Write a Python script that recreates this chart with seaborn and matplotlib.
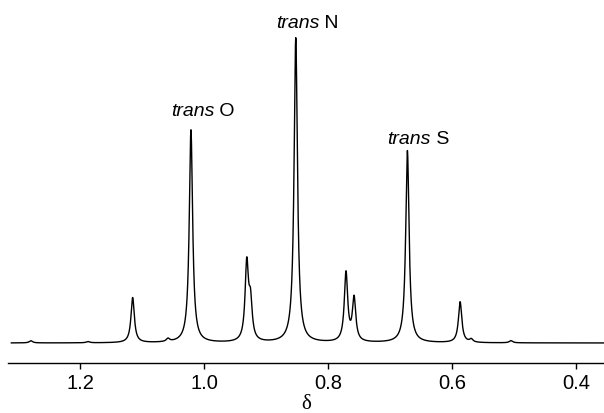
import numpy as np
import pandas as pd
import matplotlib.pyplot as plt
import seaborn as sns

# Peak table (chemical shift in ppm, relative height, trans N = 100)
peak_shift = [1.279, 1.187, 1.115, 1.058, 1.021, 0.931, 0.925, 0.852,
              0.771, 0.758, 0.672, 0.587, 0.569, 0.505]
peak_height = [0.7, 0.4, 14.8, 1.0, 69.8, 25.2, 12.0, 100.0,
               22.6, 14.1, 63.0, 13.4, 1.0, 0.7]
peak_width = 0.0065  # FWHM in ppm

# Labelled peaks
label_text = ['O', 'N', 'S']
label_shift = [1.021, 0.852, 0.672]
label_level = [76.1, 105.2, 66.9]

tick_values = [1.2, 1.0, 0.8, 0.6, 0.4]

# Build the spectrum as a sum of Lorentzian lines
delta = np.linspace(1.311, 0.35, 8000)
half = peak_width / 2
intensity = np.zeros_like(delta)
for pos, h in zip(peak_shift, peak_height):
    intensity += h * half**2 / ((delta - pos)**2 + half**2)
spectrum = pd.DataFrame({'delta': delta, 'intensity': intensity})

sns.set_theme(style='white')
plt.rcParams['font.family'] = ['Liberation Sans', 'DejaVu Sans']

fig = plt.figure(figsize=(6.04, 4.14), dpi=100)
ax = fig.add_axes([8 / 604, 50 / 414, 596 / 604, 364 / 414])

sns.lineplot(data=spectrum, x='delta', y='intensity', color='black',
             linewidth=1.0, estimator=None, sort=False, ax=ax)

ax.set_xlim(1.316, 0.355)
ax.set_ylim(-6.56, 112.8)

for name, pos, lvl in zip(label_text, label_shift, label_level):
    t = ax.text(pos + 0.032, lvl, 'trans', style='italic', fontsize=14,
                ha='left', va='center', color='black')
    ax.annotate(' ' + name, xy=(1, 0), xycoords=t, fontsize=14,
                ha='left', va='bottom', color='black')

for side in ['top', 'left', 'right']:
    ax.spines[side].set_visible(False)
ax.spines['bottom'].set_color('black')
ax.spines['bottom'].set_linewidth(1.0)

ax.set_xticks(tick_values)
ax.set_xticklabels([f'{v:.1f}' for v in tick_values])
ax.set_yticks([])
ax.tick_params(axis='x', bottom=True, direction='out', length=4, width=1.0,
               color='black', labelsize=14.5, pad=3, labelcolor='black')

ax.set_xlabel('δ', fontsize=15, family=['Liberation Serif', 'DejaVu Serif'],
              labelpad=2, color='black')
ax.set_ylabel('')

fig.savefig('out.png', dpi=100)
